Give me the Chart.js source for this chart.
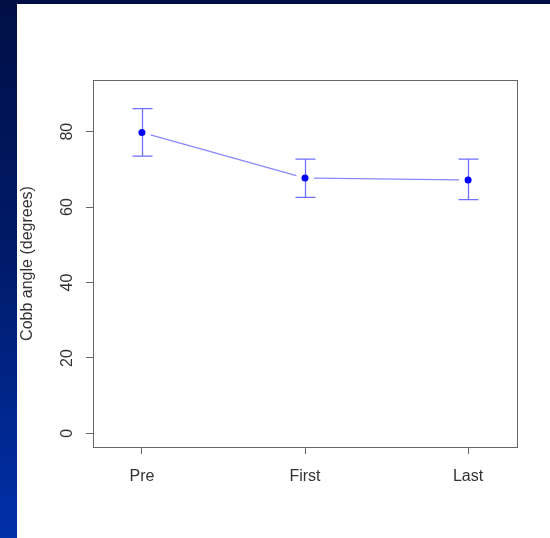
<!DOCTYPE html>
<html>
<head>
<meta charset="utf-8">
<script src="https://cdn.jsdelivr.net/npm/chart.js@4.4.0/dist/chart.umd.min.js"></script>
<style>
  html, body { margin: 0; padding: 0; }
  body {
    width: 550px; height: 538px; overflow: hidden; position: relative;
    background: linear-gradient(180deg, #000f45 0%, #001b6c 50%, #0030aa 100%);
  }
  #paper { position: absolute; left: 17px; top: 4px; right: 0; bottom: 0; background: #fff; }
  #wrap { position: absolute; left: 0; top: 0; width: 550px; height: 538px; }
</style>
</head>
<body>
<div id="paper"></div>
<div id="wrap"><canvas id="cobb" width="550" height="538"></canvas></div>
<script>
// values
var stages = ["Pre", "First", "Last"];
var stagePos = [1, 2, 3];
var meanAngle = [79.8, 67.7, 67.2];
var lowerAngle = [73.5, 62.6, 62.0];
var upperAngle = [86.1, 72.7, 72.7];
var yTicks = [0, 20, 40, 60, 80];

var textColor = "#333333";
var axisColor = "#666666";
var font = { family: "'Liberation Sans', Arial, sans-serif", size: 16 };

var points = stagePos.map(function (x, i) {
    return { x: x, y: meanAngle[i] };
});

// error bars, gapped connecting line and the box, drawn with the chart's scales
var errorBarPlugin = {
    id: "errorBars",
    beforeDatasetsDraw: function (chart) {
        var ctx = chart.ctx;
        var xs = chart.scales.x;
        var ys = chart.scales.y;
        var area = chart.chartArea;
        ctx.save();

        // box
        ctx.strokeStyle = axisColor;
        ctx.lineWidth = 1;
        ctx.strokeRect(Math.round(area.left) + 0.5, Math.round(area.top) + 0.5,
            Math.round(area.right - area.left), Math.round(area.bottom - area.top));

        // line between the means, with a gap round each point
        ctx.strokeStyle = "#8888ff";
        ctx.lineWidth = 1.2;
        var gap = 9;
        for (var i = 0; i < stagePos.length - 1; i++) {
            var x1 = xs.getPixelForValue(stagePos[i]);
            var y1 = ys.getPixelForValue(meanAngle[i]);
            var x2 = xs.getPixelForValue(stagePos[i + 1]);
            var y2 = ys.getPixelForValue(meanAngle[i + 1]);
            var len = Math.hypot(x2 - x1, y2 - y1);
            var ux = (x2 - x1) / len, uy = (y2 - y1) / len;
            ctx.beginPath();
            ctx.moveTo(x1 + ux * gap, y1 + uy * gap);
            ctx.lineTo(x2 - ux * gap, y2 - uy * gap);
            ctx.stroke();
        }

        // error bars
        ctx.strokeStyle = "#6f6fff";
        ctx.lineWidth = 1.3;
        var cap = 10;
        stagePos.forEach(function (x, i) {
            var px = Math.round(xs.getPixelForValue(x)) + 0.5;
            var lo = ys.getPixelForValue(lowerAngle[i]);
            var hi = ys.getPixelForValue(upperAngle[i]);
            ctx.beginPath();
            ctx.moveTo(px, lo);
            ctx.lineTo(px, hi);
            ctx.moveTo(px - cap, hi);
            ctx.lineTo(px + cap, hi);
            ctx.moveTo(px - cap, lo);
            ctx.lineTo(px + cap, lo);
            ctx.stroke();
        });
        ctx.restore();
    }
};

var cobbChart = new Chart(document.getElementById("cobb"), {
    type: "scatter",
    data: {
        datasets: [
            {
                data: points,
                showLine: false,
                pointRadius: 3.5,
                pointBackgroundColor: "#0000ff",
                pointBorderColor: "#0000ff",
                pointBorderWidth: 0
            }
        ]
    },
    options: {
        responsive: false,
        animation: false,
        events: [],
        layout: { padding: { left: 18, top: 80, right: 33, bottom: 0 } },
        plugins: {
            legend: { display: false },
            tooltip: { enabled: false }
        },
        scales: {
            x: {
                type: "linear",
                min: 0.7,
                max: 3.3,
                afterBuildTicks: function (axis) {
                    axis.ticks = stagePos.map(function (v) { return { value: v }; });
                },
                afterFit: function (axis) { axis.height = 91; },
                ticks: {
                    color: textColor,
                    font: font,
                    padding: 13,
                    callback: function (value) {
                        var i = stagePos.indexOf(value);
                        return i >= 0 ? stages[i] : "";
                    }
                },
                grid: { drawOnChartArea: false, drawTicks: true, tickLength: 7, color: axisColor },
                border: { display: false }
            },
            y: {
                min: -3.6,
                max: 93.7,
                afterBuildTicks: function (axis) {
                    axis.ticks = yTicks.map(function (v) { return { value: v }; });
                },
                afterFit: function (axis) { axis.width = 75; },
                title: {
                    display: true,
                    text: "Cobb angle (degrees)",
                    color: textColor,
                    font: font,
                    padding: 0
                },
                ticks: {
                    color: textColor,
                    font: font,
                    padding: 10,
                    minRotation: 90,
                    maxRotation: 90,
                    crossAlign: "center"
                },
                grid: { drawOnChartArea: false, drawTicks: true, tickLength: 7, color: axisColor },
                border: { display: false }
            }
        }
    },
    plugins: [errorBarPlugin]
});
</script>
</body>
</html>
